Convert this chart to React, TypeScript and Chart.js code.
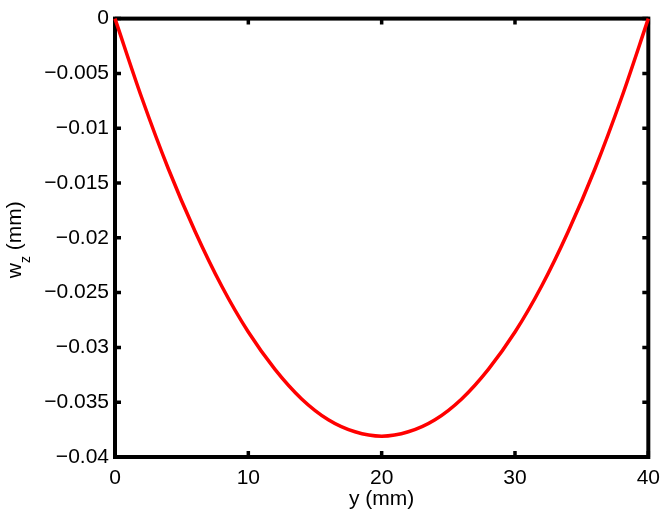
import React, { useEffect, useRef } from "react";
import { Chart, registerables } from "chart.js";

Chart.register(...registerables);

// Position along the beam (mm)
const positions: number[] = [0, 2, 4, 6, 8, 10, 12, 14, 16, 18, 20, 22, 24, 26, 28, 30, 32, 34, 36, 38, 40];
// Deflection w_z (mm)
const deflection: number[] = [
  0, -0.0072, -0.0137, -0.0194, -0.0244, -0.0286, -0.032, -0.0347, -0.0366, -0.0377, -0.0381,
  -0.0377, -0.0366, -0.0347, -0.032, -0.0286, -0.0244, -0.0194, -0.0137, -0.0072, 0,
];
const xTickValues: number[] = [0, 10, 20, 30, 40];
const yTickValues: number[] = [0, -0.005, -0.01, -0.015, -0.02, -0.025, -0.03, -0.035, -0.04];
const xAxisTitle = "y (mm)";
const yTitleMain = "w";
const yTitleSub = "z";
const yTitleUnit = " (mm)";

const FONT = '"Liberation Sans", Arial, Helvetica, sans-serif';

const fmt = (v: number): string => {
  const r = Math.round(v * 10000) / 10000;
  if (r === 0) return "0";
  return (r < 0 ? "\u2212" : "") + String(Math.abs(r));
};

const framePlugin = {
  id: "matlabFrame",
  beforeDatasetsDraw(chart: any) {
    const { ctx, chartArea: a, scales } = chart;
    const xs = scales.x;
    const ys = scales.y;
    ctx.save();
    ctx.strokeStyle = "#000";
    ctx.lineWidth = 4;
    ctx.strokeRect(a.left, a.top, a.right - a.left, a.bottom - a.top);
    ctx.lineWidth = 3.5;
    ctx.lineCap = "butt";
    ctx.beginPath();
    const len = 6;
    for (const v of yTickValues) {
      const py = ys.getPixelForValue(v);
      ctx.moveTo(a.left, py);
      ctx.lineTo(a.left + len, py);
      ctx.moveTo(a.right, py);
      ctx.lineTo(a.right - len, py);
    }
    for (const v of xTickValues) {
      const px = xs.getPixelForValue(v);
      ctx.moveTo(px, a.bottom);
      ctx.lineTo(px, a.bottom - len);
      ctx.moveTo(px, a.top);
      ctx.lineTo(px, a.top + len);
    }
    ctx.stroke();
    ctx.restore();
  },
  afterDraw(chart: any) {
    const { ctx, chartArea: a } = chart;
    const mainFont = `21px ${FONT}`;
    const subFont = `14px ${FONT}`;
    ctx.save();
    ctx.fillStyle = "#000";
    ctx.font = mainFont;
    const wW = ctx.measureText(yTitleMain).width;
    const uW = ctx.measureText(yTitleUnit).width;
    ctx.font = subFont;
    const zW = ctx.measureText(yTitleSub).width;
    const total = wW + zW + uW;
    const cy = (a.top + a.bottom) / 2 + 2;
    ctx.translate(21, cy);
    ctx.rotate(-Math.PI / 2);
    ctx.textAlign = "left";
    ctx.textBaseline = "alphabetic";
    let sx = -total / 2;
    ctx.font = mainFont;
    ctx.fillText(yTitleMain, sx, 0);
    sx += wW;
    ctx.font = subFont;
    ctx.fillText(yTitleSub, sx, 9);
    sx += zW;
    ctx.font = mainFont;
    ctx.fillText(yTitleUnit, sx, 0);
    ctx.restore();
  },
};

export default function App() {
  const canvasRef = useRef<HTMLCanvasElement | null>(null);

  useEffect(() => {
    const canvas = canvasRef.current;
    if (!canvas) return;
    const chart = new Chart(canvas, {
      type: "line",
      data: {
        datasets: [
          {
            data: positions.map((p, i) => ({ x: p, y: deflection[i] })),
            borderColor: "#ff0000",
            backgroundColor: "#ff0000",
            borderWidth: 3.5,
            pointRadius: 0,
            cubicInterpolationMode: "monotone",
            fill: false,
            clip: false as any,
          },
        ],
      },
      options: {
        responsive: false,
        devicePixelRatio: 1,
        animation: false,
        events: [],
        layout: { padding: { left: 0, right: 19, top: 17, bottom: 0 } },
        plugins: {
          legend: { display: false },
          tooltip: { enabled: false },
          title: { display: false },
        },
        scales: {
          x: {
            type: "linear",
            min: 0,
            max: 40,
            grid: { display: false, drawTicks: false },
            border: { display: false },
            afterBuildTicks: (scale: any) => {
              scale.ticks = xTickValues.map((v) => ({ value: v }));
            },
            afterFit: (scale: any) => {
              scale.height = 56;
            },
            ticks: {
              color: "#000",
              font: { family: FONT, size: 21 },
              padding: 9,
              maxRotation: 0,
              callback: (v: any) => fmt(Number(v)),
            },
            title: {
              display: true,
              text: xAxisTitle,
              color: "#000",
              font: { family: FONT, size: 21 },
              padding: { top: 0, bottom: 1 },
            },
          },
          y: {
            type: "linear",
            min: -0.04,
            max: 0,
            grid: { display: false, drawTicks: false },
            border: { display: false },
            afterBuildTicks: (scale: any) => {
              scale.ticks = yTickValues.map((v) => ({ value: v }));
            },
            afterFit: (scale: any) => {
              scale.width = 115;
            },
            ticks: {
              color: "#000",
              font: { family: FONT, size: 21 },
              padding: 6,
              callback: (v: any) => fmt(Number(v)),
            },
          },
        },
      },
      plugins: [framePlugin],
    });
    return () => chart.destroy();
  }, []);

  return (
    <div style={{ position: "absolute", left: 0, top: 0, width: 669, height: 513, background: "#fff" }}>
      <canvas ref={canvasRef} width={669} height={513} style={{ display: "block" }} />
    </div>
  );
}
